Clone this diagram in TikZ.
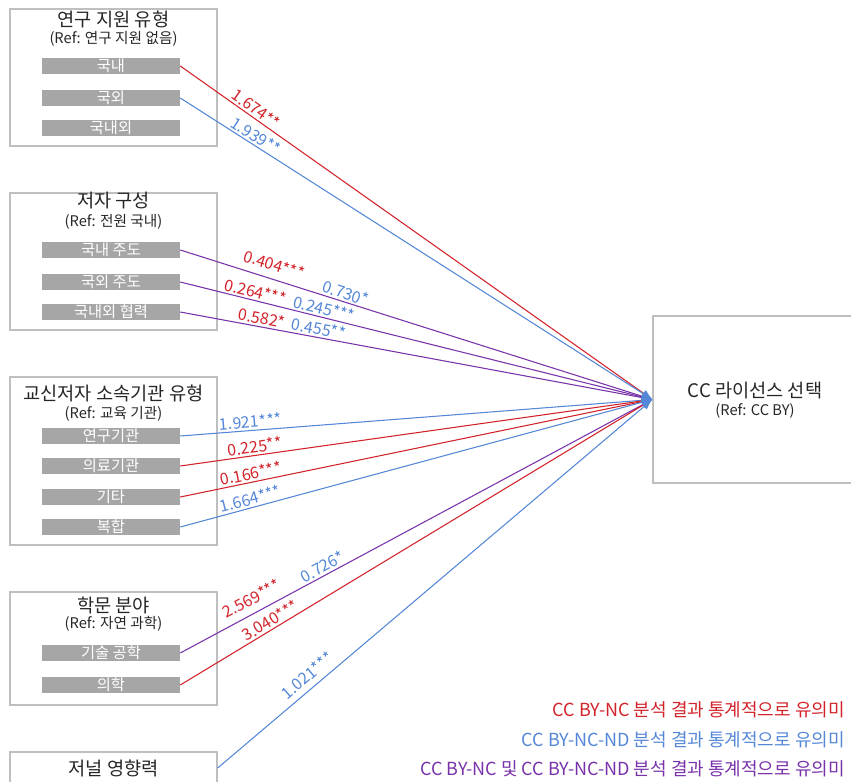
\documentclass[tikz,border=0pt]{standalone}
\usepackage{fontspec}
\setmainfont{Noto Sans CJK KR}
\usetikzlibrary{arrows.meta}
\definecolor{sigRed}{RGB}{210, 35, 42}
\definecolor{sigBlue}{RGB}{85, 135, 215}
\definecolor{sigPurple}{RGB}{120, 50, 170}
\definecolor{barGray}{RGB}{166, 166, 166}
\definecolor{frameGray}{RGB}{191, 191, 191}
\definecolor{textDark}{RGB}{38, 38, 38}

\begin{document}
\begin{tikzpicture}[x=0.75pt, y=-0.75pt,
    groupbox/.style={draw=frameGray, line width=1pt, minimum width=155.25pt, inner sep=0pt},
    grouptitle/.style={text=textDark, inner sep=0pt, font=\fontsize{14}{16}\selectfont},
    groupref/.style={text=textDark, inner sep=0pt, font=\fontsize{11}{13}\selectfont},
    itembar/.style={fill=barGray, text=white, minimum width=103.5pt, minimum height=12pt, inner sep=0pt, font=\fontsize{11.5}{12}\selectfont},
    effect/.style={line width=0.8pt, -{Latex[length=8pt, width=6pt, color=sigBlue]}},
    coef/.style={sloped, above, inner sep=1.5pt, font=\fontsize{12}{14}\selectfont},
    legendtext/.style={anchor=east, inner sep=0pt, font=\fontsize{13.5}{15}\selectfont}]
            \useasboundingbox (0,0) rectangle (851,782);

            % Research funding
            \node[groupbox, minimum height=102.75pt] (fund) at (113.5,77.5) {};
            \node[grouptitle] (fundTitle) at (113.5,19) {연구 지원 유형};
            \node[groupref] (fundRef) at (113.5,38.5) {(Ref: 연구 지원 없음)};
            \node[itembar] (fundDom) at (111,66) {국내};
            \node[itembar] (fundFor) at (111,98) {국외};
            \node[itembar] (fundBoth) at (111,128) {국내외};

            % Author composition
            \node[groupbox, minimum height=102.75pt] (auth) at (113.5,261.5) {};
            \node[grouptitle] (authTitle) at (113.5,201) {저자 구성};
            \node[groupref] (authRef) at (113.5,222) {(Ref: 전원 국내)};
            \node[itembar] (authDom) at (111,250) {국내 주도};
            \node[itembar] (authFor) at (111,282) {국외 주도};
            \node[itembar] (authCollab) at (111,312) {국내외 협력};

            % Institution of corresponding author
            \node[groupbox, minimum height=126pt] (inst) at (113.5,461) {};
            \node[grouptitle] (instTitle) at (113.5,393) {교신저자 소속기관 유형};
            \node[groupref] (instRef) at (113.5,414) {(Ref: 교육 기관)};
            \node[itembar] (instRes) at (111,436) {연구기관};
            \node[itembar] (instMed) at (111,466) {의료기관};
            \node[itembar] (instEtc) at (111,497) {기타};
            \node[itembar] (instMix) at (111,527) {복합};

            % Discipline
            \node[groupbox, minimum height=84.75pt] (field) at (113.5,648.5) {};
            \node[grouptitle] (fieldTitle) at (113.5,605) {학문 분야};
            \node[groupref] (fieldRef) at (113.5,624) {(Ref: 자연 과학)};
            \node[itembar] (fieldEng) at (111,653) {기술 공학};
            \node[itembar] (fieldMed) at (111,685) {의학};

            % Journal impact
            \node[groupbox, minimum height=72pt] (jif) at (113.5,800) {};
            \node[grouptitle] (jifTitle) at (113.5,768) {저널 영향력};

            % Outcome
            \node[groupbox, minimum height=125.25pt] (license) at (756.5,399.5) {};
            \node[grouptitle] (licenseTitle) at (755,391) {CC 라이선스 선택};
            \node[groupref] (licenseRef) at (755,411) {(Ref: CC BY)};

            % Significant effects
            \draw[effect, sigRed] (fundDom.east) -- node[coef, pos=0.15] {1.674**} (license.west);
            \draw[effect, sigBlue] (fundFor.east) -- node[coef, pos=0.15] {1.939**} (license.west);
            \draw[effect, sigPurple] (authDom.east) -- node[coef, pos=0.19, above=4pt, text=sigRed] {0.404***} node[coef, pos=0.345, text=sigBlue] {0.730*} (license.west);
            \draw[effect, sigPurple] (authFor.east) -- node[coef, pos=0.155, text=sigRed] {0.264***} node[coef, pos=0.3, text=sigBlue] {0.245***} (license.west);
            \draw[effect, sigPurple] (authCollab.east) -- node[coef, pos=0.17, text=sigRed] {0.582*} node[coef, pos=0.29, text=sigBlue] {0.455**} (license.west);
            \draw[effect, sigBlue] (instRes.east) -- node[coef, pos=0.15] {1.921***} (license.west);
            \draw[effect, sigRed] (instMed.east) -- node[coef, pos=0.16] {0.225**} (license.west);
            \draw[effect, sigRed] (instEtc.east) -- node[coef, pos=0.153] {0.166***} (license.west);
            \draw[effect, sigBlue] (instMix.east) -- node[coef, pos=0.153] {1.664***} (license.west);
            \draw[effect, sigPurple] (fieldEng.east) -- node[coef, pos=0.165, above=4pt, text=sigRed] {2.569***} node[coef, pos=0.31, text=sigBlue] {0.726*} (license.west);
            \draw[effect, sigRed] (fieldMed.east) -- node[coef, pos=0.2] {3.040***} (license.west);
            \draw[effect, sigBlue] (jifTitle -| jif.east) -- node[coef, pos=0.225, above=3pt] {1.021***} (license.west);

            % Legend
            \node[legendtext, text=sigRed] (legRed) at (845,710) {CC BY-NC 분석 결과 통계적으로 유의미};
            \node[legendtext, text=sigBlue] (legBlue) at (845,740) {CC BY-NC-ND 분석 결과 통계적으로 유의미};
            \node[legendtext, text=sigPurple] (legPurple) at (845,769) {CC BY-NC 및 CC BY-NC-ND 분석 결과 통계적으로 유의미};
        \end{tikzpicture}
\end{document}
